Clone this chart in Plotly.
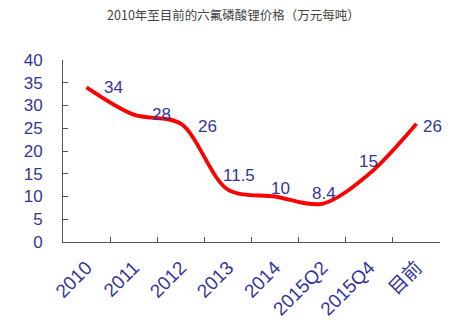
import plotly.graph_objects as go

categories = ["2010", "2011", "2012", "2013", "2014", "2015Q2", "2015Q4", "目前"]
prices = [34, 28, 26, 11.5, 10, 8.4, 15, 26]
labels = ["34", "28", "26", "11.5", "10", "8.4", "15", "26"]
y_ticks = [0, 5, 10, 15, 20, 25, 30, 35, 40]

# label offsets in pixels (style only)
label_dx = [27, 28, 27, 11, 5, 2, -1, 16]
label_dy = [0, 0, -3, 14, 8, 10, 12, -3]

navy = "#35359a"
font_family = "Liberation Sans, Arial, sans-serif"

fig = go.Figure()
fig.add_trace(go.Scatter(
    x=categories, y=prices, mode="lines",
    line=dict(color="#ff0000", width=3.8, shape="spline", smoothing=0.9),
    hoverinfo="skip", showlegend=False,
))

for i, (v, t, dx, dy) in enumerate(zip(prices, labels, label_dx, label_dy)):
    fig.add_annotation(
        x=i, y=v, text=t, showarrow=False, xshift=dx, yshift=dy,
        font=dict(family=font_family, size=17, color=navy),
    )

fig.update_layout(
    width=467, height=322,
    margin=dict(l=63, r=27, t=60, b=80),
    paper_bgcolor="white", plot_bgcolor="white",
    title=dict(text="2010年至目前的六氟磷酸锂价格（万元每吨）",
               x=0.5, xanchor="center", y=0.953, yanchor="middle",
               font=dict(family="Noto Sans CJK SC, sans-serif", size=12.5, color="#444444")),
    xaxis=dict(
        type="category", tickson="boundaries", ticks="inside", ticklen=5,
        tickcolor="#555555", showline=True, linecolor="#555555", linewidth=1,
        showgrid=False, tickangle=-45, ticklabelstandoff=6, automargin=False,
        tickfont=dict(family=font_family + ", Noto Sans CJK SC", size=19, color=navy),
        range=[-0.5, 7.5], zeroline=False,
    ),
    yaxis=dict(
        range=[0, 40], tickvals=y_ticks, ticks="inside", ticklen=5,
        tickcolor="#555555", showline=True, linecolor="#555555", linewidth=1,
        showgrid=False, zeroline=False, ticklabelstandoff=16, automargin=False,
        tickfont=dict(family=font_family, size=17, color=navy),
    ),
)

fig.write_html("out.html")
